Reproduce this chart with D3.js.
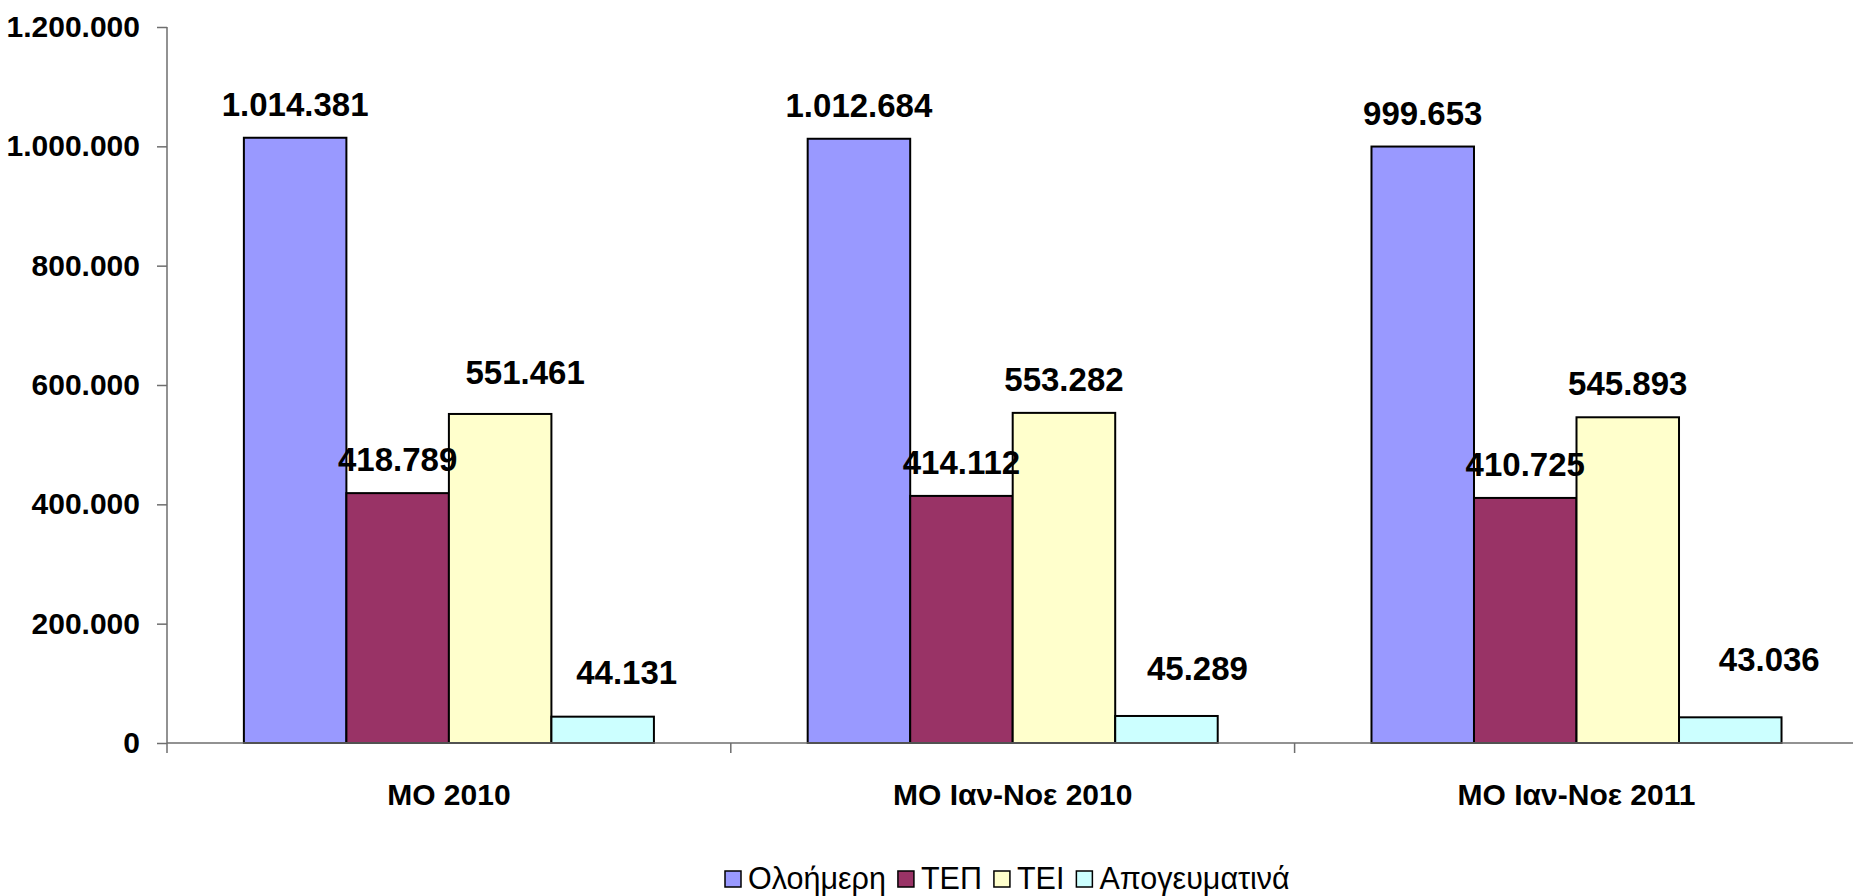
<!DOCTYPE html>
<html>
<head>
<meta charset="utf-8">
<script src="https://cdn.jsdelivr.net/npm/d3@7"></script>
<style>
  body { margin: 0; background: #fff; }
  svg { display: block; font-family: Arial, "Liberation Sans", sans-serif; }
</style>
</head>
<body>
<div id="chart"></div>
<script>
// chart values
var categories = ["ΜΟ 2010", "ΜΟ Ιαν-Νοε 2010", "ΜΟ Ιαν-Νοε 2011"];
var seriesNames = ["Ολοήμερη", "ΤΕΠ", "ΤΕΙ", "Απογευματινά"];
var oloimera = [1014381, 1012684, 999653];
var tep = [418789, 414112, 410725];
var tei = [551461, 553282, 545893];
var apogevmatina = [44131, 45289, 43036];
var yTicks = [0, 200000, 400000, 600000, 800000, 1000000, 1200000];

var seriesValues = [oloimera, tep, tei, apogevmatina];
var colors = ["#9999ff", "#993366", "#ffffcc", "#ccffff"];

// hand-moved labels in the original (series index -> per category dx, dy)
var labelNudge = {
  2: [[25, -8], [0, 0], [0, 0]],
  3: [[24, -11], [31, -14], [39, -24]]
};

var W = 1853, H = 896;
var margin = {top: 27, left: 167, bottom: 153};
var plotBottom = H - margin.bottom;

var svg = d3.select("#chart")
  .append("svg")
    .attr("width", W)
    .attr("height", H);

var grFormat = d3.formatLocale({decimal: ",", thousands: ".", grouping: [3], currency: ["", "€"]}).format(",d");

var x = d3.scaleBand()
  .domain(categories)
  .range([margin.left, margin.left + 3 * 563.8])
  .padding(0);

var bw = x.bandwidth();
var xs = d3.scaleBand()
  .domain(seriesNames)
  .range([bw * 0.75 / 5.5, bw - bw * 0.75 / 5.5])
  .padding(0);

var y = d3.scaleLinear()
  .domain([0, 1200000])
  .range([plotBottom, margin.top]);

// bars
var rows = [];
seriesNames.forEach(function(s, si) {
  categories.forEach(function(c, ci) {
    rows.push({series: s, si: si, cat: c, ci: ci, value: seriesValues[si][ci]});
  });
});

svg.selectAll("rect.bar")
  .data(rows)
  .enter()
  .append("rect")
    .attr("class", "bar")
    .attr("x", function(d) { return x(d.cat) + xs(d.series); })
    .attr("y", function(d) { return y(d.value); })
    .attr("width", xs.bandwidth())
    .attr("height", function(d) { return y(0) - y(d.value); })
    .attr("fill", function(d) { return colors[d.si]; })
    .attr("stroke", "#000")
    .attr("stroke-width", 2);

// y axis
var yAxis = svg.append("g")
  .attr("transform", "translate(" + margin.left + ",0)")
  .call(d3.axisLeft(y).tickValues(yTicks).tickSize(10).tickPadding(17).tickFormat(grFormat));
yAxis.select(".domain").attr("stroke", "#6e6e6e").attr("stroke-width", 1.5)
  .attr("d", "M0," + margin.top + "V" + (plotBottom + 10));
yAxis.selectAll(".tick line").attr("stroke", "#6e6e6e").attr("stroke-width", 1.5);
yAxis.selectAll(".tick text")
  .attr("fill", "#000")
  .style("font-size", "30px")
  .style("font-weight", "bold");

// x axis
var xAxis = svg.append("g")
  .attr("transform", "translate(0," + plotBottom + ")");
xAxis.append("line")
  .attr("x1", margin.left)
  .attr("x2", W)
  .attr("stroke", "#6e6e6e")
  .attr("stroke-width", 1.5);
xAxis.selectAll("line.ctick")
  .data(categories.slice(1))
  .enter()
  .append("line")
    .attr("class", "ctick")
    .attr("x1", function(d) { return x(d); })
    .attr("x2", function(d) { return x(d); })
    .attr("y1", 0)
    .attr("y2", 10)
    .attr("stroke", "#6e6e6e")
    .attr("stroke-width", 1.5);
xAxis.selectAll("text")
  .data(categories)
  .enter()
  .append("text")
    .attr("x", function(d) { return x(d) + bw / 2; })
    .attr("y", 62)
    .attr("text-anchor", "middle")
    .style("font-size", "30px")
    .style("font-weight", "bold")
    .text(function(d) { return d; });

// value labels
svg.selectAll("text.val")
  .data(rows)
  .enter()
  .append("text")
    .attr("class", "val")
    .attr("x", function(d) {
      var n = labelNudge[d.si] ? labelNudge[d.si][d.ci][0] : 0;
      return x(d.cat) + xs(d.series) + xs.bandwidth() / 2 + n;
    })
    .attr("y", function(d) {
      var n = labelNudge[d.si] ? labelNudge[d.si][d.ci][1] : 0;
      return y(d.value) - 22 + n;
    })
    .attr("text-anchor", "middle")
    .style("font-size", "33px")
    .style("font-weight", "bold")
    .text(function(d) { return grFormat(d.value); });

// legend
var legend = svg.append("g")
  .attr("transform", "translate(725," + 871 + ")");
var lx = 0;
seriesNames.forEach(function(s, i) {
  var item = legend.append("g").attr("transform", "translate(" + lx + ",0)");
  item.append("rect")
    .attr("width", 16)
    .attr("height", 16)
    .attr("fill", colors[i])
    .attr("stroke", "#000")
    .attr("stroke-width", 1.5);
  var t = item.append("text")
    .attr("x", 23)
    .attr("y", 18)
    .style("font-size", "30.5px")
    .text(s);
  lx += 23 + t.node().getComputedTextLength() + 12;
});
</script>
</body>
</html>
